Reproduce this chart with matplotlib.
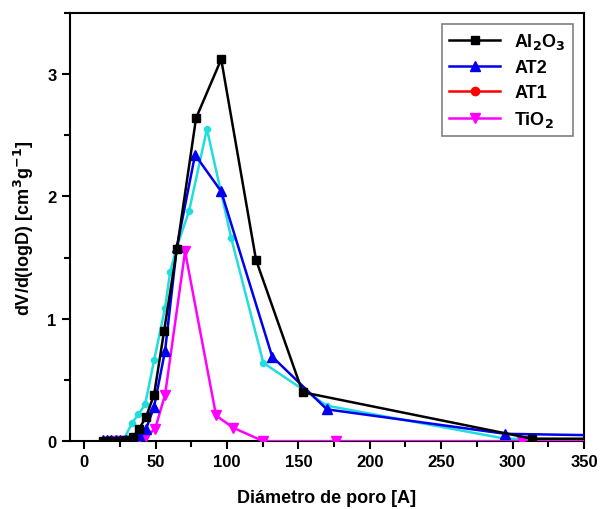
import matplotlib
matplotlib.use("Agg")
import matplotlib.pyplot as plt
from matplotlib.ticker import MultipleLocator

plt.rcParams['font.family'] = ['Liberation Sans', 'DejaVu Sans']
plt.rcParams['font.weight'] = 'bold'
plt.rcParams['mathtext.default'] = 'bf'

# Al2O3
x_al = [13, 17, 21, 25, 29, 34, 38.5, 43.4, 49, 56, 65, 78.4, 96, 120.4, 153, 313.7, 400]
y_al = [0, 0, 0, 0, 0.01, 0.03, 0.1, 0.2, 0.38, 0.9, 1.57, 2.64, 3.12, 1.48, 0.40, 0.02, 0.02]

# AT2
x_at2 = [13, 16, 19, 22, 25, 29, 34, 38.5, 43.4, 49, 56.7, 65, 77.7, 96, 131.7, 170, 295, 400]
y_at2 = [0.01, 0.01, 0.01, 0.01, 0.01, 0.01, 0.02, 0.05, 0.1, 0.28, 0.74, 1.59, 2.34, 2.04, 0.69, 0.26, 0.06, 0.04]

# serie cian (dibujada sin leyenda propia)
x_cy = [24, 28, 33.6, 38, 42.7, 49, 56.7, 60.2, 65, 73.5, 86, 103, 125.5, 170, 295, 400]
y_cy = [0, 0.02, 0.15, 0.22, 0.3, 0.66, 1.09, 1.38, 1.59, 1.88, 2.55, 1.66, 0.64, 0.29, 0.02, 0.01]

# TiO2
x_ti = [20, 26, 32, 38, 43.4, 49.7, 56.7, 70.7, 92.4, 104.3, 125.5, 176.5, 306.7, 400]
y_ti = [0, 0, 0, 0.01, 0.04, 0.1, 0.38, 1.55, 0.21, 0.11, 0.0, 0.0, 0.0, 0.0]

fig = plt.figure(figsize=(6.02, 5.10), dpi=100)
ax = fig.add_axes([0.116, 0.133, 0.854, 0.84])

ax.plot(x_cy, y_cy, color="#22dddd", lw=1.8, marker="8", ms=5, zorder=2)
ax.plot(x_ti, y_ti, color="#ff00ff", lw=1.8, marker="v", ms=7, label="TiO$_2$", zorder=3)
ax.plot(x_at2, y_at2, color="#0000ee", lw=1.8, marker="^", ms=7, label="AT2", zorder=4)
ax.plot(x_al, y_al, color="black", lw=1.8, marker="s", ms=6, label="Al$_2$O$_3$", zorder=5)
ax.plot([], [], color="red", lw=1.8, marker="o", ms=6, label="AT1")

ax.set_xlim(-10, 350)
ax.set_ylim(0, 3.5)
ax.xaxis.set_major_locator(MultipleLocator(50))
ax.xaxis.set_minor_locator(MultipleLocator(25))
ax.yaxis.set_major_locator(MultipleLocator(1))
ax.yaxis.set_minor_locator(MultipleLocator(0.5))
ax.tick_params(which="major", direction="out", length=6, width=1.5, labelsize=12)
ax.tick_params(which="minor", direction="out", length=4, width=1.5)
for s in ax.spines.values():
    s.set_linewidth(1.5)

ax.set_xlabel("Diámetro de poro [A]", fontsize=13, fontweight="bold", labelpad=14)
ax.set_ylabel("dV/d(logD) [cm$^3$g$^{-1}$]", fontsize=13, fontweight="bold", labelpad=8)

h, l = ax.get_legend_handles_labels()
orden = [2, 1, 3, 0]
leg = ax.legend([h[i] for i in orden], [l[i] for i in orden], loc="upper right",
                fancybox=False, edgecolor="gray", fontsize=13, handlelength=2.8,
                borderaxespad=0.6, labelspacing=0.45, framealpha=1)
leg.get_frame().set_linewidth(1.2)

fig.savefig("out.png", dpi=100)
